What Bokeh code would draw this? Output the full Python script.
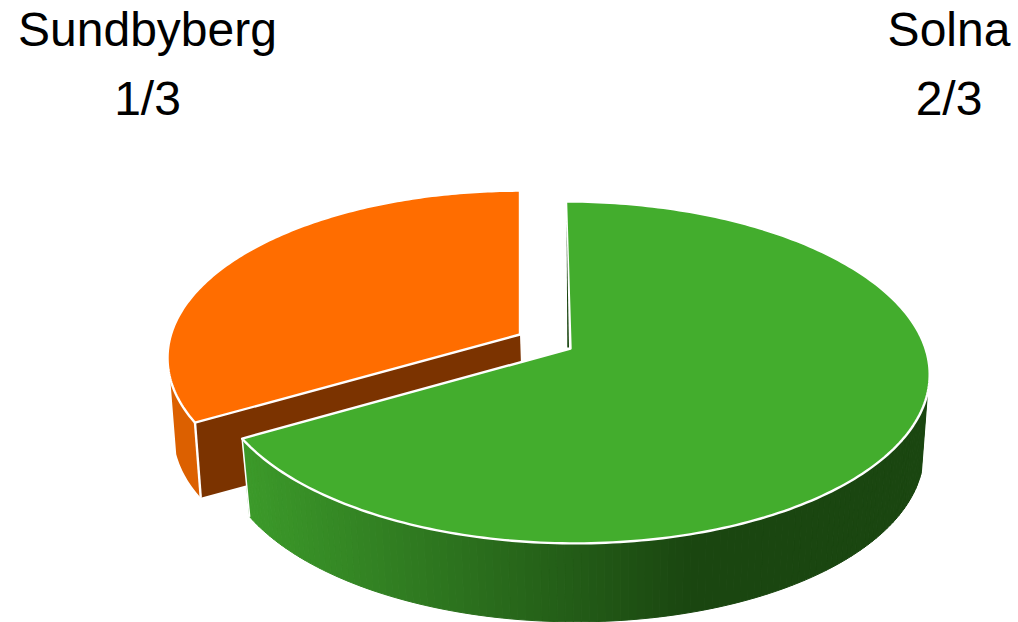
import numpy as np
from bokeh.plotting import figure
from bokeh.models import Range1d
from bokeh.core.properties import value
from bokeh.embed import file_html
from bokeh.resources import INLINE

categories = ["Solna", "Sundbyberg"]
shares = [2 / 3, 1 / 3]
share_labels = ["2/3", "1/3"]

W, H = 1018, 622
FONT = "Liberation Sans"
K = 0.14
WHITE = "#ffffff"
GREEN_TOP, ORANGE_TOP = "#43ad2d", "#ff6d00"
ORANGE_SIDE, BROWN, GREEN_EDGE = "#dc6000", "#7b3300", "#1a4610"
GREEN_LIGHT, GREEN_DARK = np.array([0x3c, 0x9a, 0x2a]), np.array([0x1a, 0x46, 0x10])


def rim(theta_deg, ax, ay, a, b, skew=0.0):
    t = np.radians(theta_deg)
    x, y = np.sin(t), -np.cos(t)
    w = 1 - K * y
    return ax + a * x / w + skew * y, ay + b * y / w


def sweep(start, stop, n=90):
    return np.linspace(start, stop, n)


p = figure(width=W, height=H, output_backend="svg", toolbar_location=None,
           x_range=Range1d(0, W), y_range=Range1d(H, 0), min_border=0,
           background_fill_color=WHITE, border_fill_color=WHITE, outline_line_color=None)
p.axis.visible = False
p.grid.visible = False

# slice angles from the shares, clockwise from twelve o'clock
green_end = shares[0] * 360
orange_end = green_end + shares[1] * 360

# ---- geometry: (apex x, apex y, x radius, y radius, skew)
o_top = (519.5, 334, 349, 164, 0)
o_low = (522, 410, 345.5, 162.5, 0)
g_top = (570, 348, 355, 167.6, 4.5)
g_low = (571, 426, 348, 168, 4.5)

# ---- exploded orange slice
th = sweep(green_end, green_end + 15, 20)
ux, uy = rim(th, *o_top)
lx, ly = rim(th, *o_low)
p.patch(np.r_[ux, lx[::-1]], np.r_[uy, ly[::-1]], fill_color=ORANGE_SIDE, line_color=None)

e_ux, e_uy = rim(green_end, *o_top)
e_lx, e_ly = rim(green_end, *o_low)
p.patch([e_ux, o_top[0], o_low[0], e_lx], [e_uy, o_top[1], o_low[1], e_ly],
        fill_color=BROWN, line_color=None)
p.line([e_ux, e_lx], [e_uy, e_ly], line_color=WHITE, line_width=2.4)

th = sweep(green_end, orange_end, 160)
ox, oy = rim(th, *o_top)
p.patch(np.r_[o_top[0], ox], np.r_[o_top[1], oy], fill_color=ORANGE_TOP,
        line_color=WHITE, line_width=2.4, line_join="round")

# ---- green side wall with its horizontal shading
edges = sweep(105, green_end, 121)
ux, uy = rim(edges, *g_top)
lx, ly = rim(edges, *g_low)
x_light, x_dark = ux.min(), 690.0
for i in range(len(edges) - 1):
    mid = 0.5 * (ux[i] + ux[i + 1])
    f = np.clip((mid - x_light) / (x_dark - x_light), 0, 1)
    c = GREEN_LIGHT + (GREEN_DARK - GREEN_LIGHT) * f
    col = "#%02x%02x%02x" % tuple(int(round(v)) for v in c)
    p.patch([ux[i], ux[i + 1], lx[i + 1], lx[i]], [uy[i], uy[i + 1], ly[i + 1], ly[i]],
            fill_color=col, line_color=col, line_width=1)
p.line([ux[-1], lx[-1]], [uy[-1], ly[-1]], line_color=WHITE, line_width=1.5)

# ---- green top face
th = sweep(0, green_end, 240)
gx, gy = rim(th, *g_top)
p.patch(np.r_[g_top[0], gx], np.r_[g_top[1], gy], fill_color=GREEN_TOP,
        line_color=WHITE, line_width=2.4, line_join="round")

# ---- thin sliver of the green slice's inner face, along its start edge
s_x, s_y = rim(0.0, *g_top)
s_f = 0.13
p.patch([s_x + s_f * (g_top[0] - s_x), g_top[0] - 1.5, g_top[0] - 3.2],
        [s_y + s_f * (g_top[1] - s_y), g_top[1] - 1, g_top[1] - 1],
        fill_color=GREEN_EDGE, line_color=None)

# ---- labels
label_x = {"Solna": 948.5, "Sundbyberg": 147}
for cat, lab in zip(categories, share_labels):
    p.text([label_x[cat]], [28.5], text=[cat], text_font=value(FONT), text_font_size="48px",
           text_color="#000000", text_align="center", text_baseline="alphabetic")
    p.text([label_x[cat]], [97.5], text=[lab], text_font=value(FONT), text_font_size="48px",
           text_color="#000000", text_align="center", text_baseline="alphabetic")

open("out.html", "w").write(file_html(p, INLINE))
